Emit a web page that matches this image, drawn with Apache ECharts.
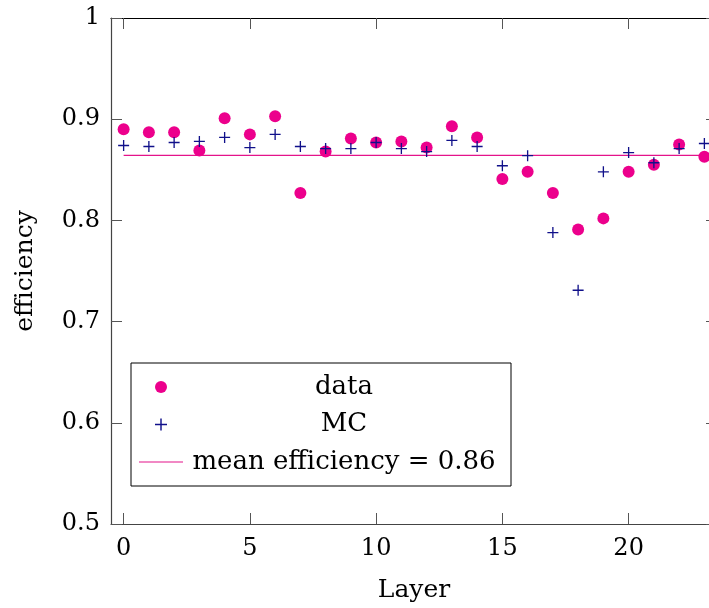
<!DOCTYPE html>
<html>
<head>
<meta charset="utf-8">
<script src="https://cdn.jsdelivr.net/npm/echarts@6/dist/echarts.min.js"></script>
<style>html,body{margin:0;padding:0;background:#fff}#c{width:709px;height:608px}</style>
</head>
<body>
<div id="c"></div>
<script>
var layers = [0,1,2,3,4,5,6,7,8,9,10,11,12,13,14,15,16,17,18,19,20,21,22,23];
var dataEff = [0.890,0.887,0.887,0.869,0.901,0.885,0.903,0.827,0.868,0.881,0.877,0.878,0.872,0.893,0.882,0.841,0.848,0.827,0.791,0.802,0.848,0.855,0.875,0.863];
var mcEff = [0.874,0.873,0.877,0.878,0.882,0.872,0.885,0.873,0.871,0.871,0.877,0.871,0.868,0.879,0.873,0.854,0.864,0.788,0.731,0.848,0.867,0.857,0.871,0.876];
var meanEff = 0.8643;
var meanRange = [0, 23.5];
var xTicks = [0,5,10,15,20];
var seriesNames = ['data','MC','mean efficiency = 0.86'];

var FONT = 'DejaVu Serif';
var chart = echarts.init(document.getElementById('c'));
var axisLineStyle = {color:'#444', width:1.2};
chart.setOption({
  animation:false,
  backgroundColor:'#fff',
  grid:{left:111, top:18, width:606, bottom:84, outerBoundsMode:'none', containLabel:false},
  legend:{
    orient:'vertical', left:131, top:363,
    padding:[9,11,9,8], itemGap:7.5, itemWidth:44, itemHeight:12,
    borderColor:'#000', borderWidth:1, backgroundColor:'#fff',
    data:[
      {name:seriesNames[0]},
      {name:seriesNames[1]},
      {name:seriesNames[2], icon:'path://M0,0h0.01v0.01h-0.01z M0,5.4h44v1.2h-44z M43.99,11.99h0.01v0.01h-0.01z', itemStyle:{color:'#e4138a'}}
    ],
    formatter:function(n){return '{t|'+n+'}';},
    textStyle:{fontFamily:FONT, fontSize:26, color:'#000', lineHeight:30,
      rich:{t:{width:312, align:'center', fontFamily:FONT, fontSize:26, lineHeight:30}}}
  },
  xAxis:[{
    type:'value', min:-0.5, max:23.5, position:'bottom',
    name:'Layer', nameLocation:'middle', nameGap:54,
    nameTextStyle:{fontFamily:FONT, fontSize:25, color:'#000'},
    axisLine:{show:true, onZero:false, lineStyle:axisLineStyle},
    axisTick:{show:true, inside:true, length:11, customValues:xTicks, lineStyle:{color:'#555'}},
    axisLabel:{customValues:xTicks, fontFamily:FONT, fontSize:24, color:'#000', margin:13},
    splitLine:{show:false}
  },{
    type:'value', min:-0.5, max:23.5, position:'top',
    axisLine:{show:true, onZero:false, lineStyle:{color:'#000', width:1.2}},
    axisTick:{show:true, inside:true, length:11, customValues:xTicks, lineStyle:{color:'#555'}},
    axisLabel:{show:false}, splitLine:{show:false}
  }],
  yAxis:[{
    type:'value', min:0.5, max:1, interval:0.1, position:'left',
    name:'efficiency', nameLocation:'middle', nameGap:73, nameRotate:90,
    nameTextStyle:{fontFamily:FONT, fontSize:25, color:'#000'},
    axisLine:{show:true, onZero:false, lineStyle:axisLineStyle},
    axisTick:{show:true, inside:true, length:11, lineStyle:{color:'#555'}},
    axisLabel:{fontFamily:FONT, fontSize:24, color:'#000', margin:11,
      formatter:function(v){return String(Math.round(v*10)/10);}},
    splitLine:{show:false}
  },{
    type:'value', min:0.5, max:1, interval:0.1, position:'right',
    axisLine:{show:true, onZero:false, lineStyle:{color:'#000', width:1.2}},
    axisTick:{show:true, inside:true, length:11, lineStyle:{color:'#555'}},
    axisLabel:{show:false}, splitLine:{show:false}
  }],
  series:[{
    name:seriesNames[0], type:'scatter', symbol:'circle', symbolSize:12,
    itemStyle:{color:'#ec008c', opacity:1},
    data:layers.map(function(l,i){return [l,dataEff[i]];}), z:3
  },{
    name:seriesNames[1], type:'scatter',
    symbol:'path://M4.4,0h1.2v4.4h4.4v1.2h-4.4v4.4h-1.2v-4.4h-4.4v-1.2h4.4z',
    symbolSize:11,
    itemStyle:{color:'#10108a', opacity:1},
    data:layers.map(function(l,i){return [l,mcEff[i]];}), z:4
  },{
    name:seriesNames[2], type:'line', symbol:'none', showSymbol:false,
    lineStyle:{color:'#e4138a', width:1.2},
    itemStyle:{color:'#e4138a'},
    data:meanRange.map(function(x){return [x, meanEff];}), z:2
  }]
});
</script>
</body>
</html>
